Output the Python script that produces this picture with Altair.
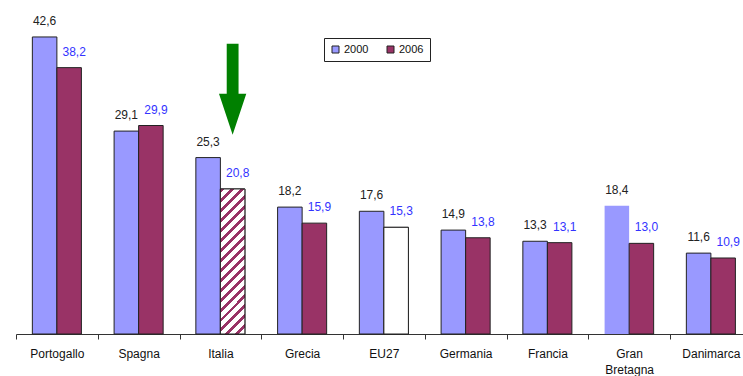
import altair as alt
import pandas as pd

# Countries, in display order, and the two survey years
paesi = ["Portogallo", "Spagna", "Italia", "Grecia", "EU27",
         "Germania", "Francia", "Gran Bretagna", "Danimarca"]
anni = ["2000", "2006"]
valori_2000 = [42.6, 29.1, 25.3, 18.2, 17.6, 14.9, 13.3, 18.4, 11.6]
valori_2006 = [38.2, 29.9, 20.8, 15.9, 15.3, 13.8, 13.1, 13.0, 10.9]

# Annotation arrow pointing at the Italian 2006 bar
freccia_paese = ["Italia"]
freccia_anno = ["2006"]
freccia_valore = [35.1]

rows = []
for p, a, b in zip(paesi, valori_2000, valori_2006):
    rows.append({"paese": p, "anno": "2000", "valore": a})
    rows.append({"paese": p, "anno": "2006", "valore": b})
df = pd.DataFrame(rows)
df["etichetta"] = df["valore"].map(lambda v: f"{v:.1f}".replace(".", ","))

freccia = pd.DataFrame({"paese": freccia_paese, "anno": freccia_anno,
                        "valore": freccia_valore})

# Layout
LEFT = 16
STEP = 81.75
RANGE_W = STEP * len(paesi)
PLOT_H = 334
Y_MAX = 47.9
PX_PER_UNIT = PLOT_H / Y_MAX

LAVANDA = "#9999ff"
BORDEAUX = "#993366"

# Diagonal hatch for the highlighted bar, built as a hard-stop linear gradient
bar_w = STEP * 0.3
bar_h = valori_2006[paesi.index("Italia")] * PX_PER_UNIT
a = bar_w / bar_h
k = (a + 1) / (a * a + 1)
n_strisce = 17
stops = []
for i in range(n_strisce):
    s0 = i / n_strisce
    s1 = (i + 0.4) / n_strisce
    s2 = (i + 1) / n_strisce
    stops += [
        alt.GradientStop(offset=s0, color=BORDEAUX),
        alt.GradientStop(offset=s1, color=BORDEAUX),
        alt.GradientStop(offset=s1, color="#ffffff"),
        alt.GradientStop(offset=s2, color="#ffffff"),
    ]
tratteggio = alt.LinearGradient(gradient="linear", stops=stops,
                                x1=0, y1=0, x2=a * k, y2=k)

x_enc = alt.X(
    "paese:N", sort=paesi,
    scale=alt.Scale(range=[0, RANGE_W], paddingInner=0, paddingOuter=0),
    axis=alt.Axis(
        title=None, labelAngle=0, tickBand="extent", tickSize=5,
        tickColor="#333333", domainColor="#333333",
        labelFont="Liberation Sans", labelFontSize=12, labelColor="#111111",
        labelBaseline="top", labelPadding=9, labelLineHeight=16,
        labelExpr="datum.value == 'Gran Bretagna' ? ['Gran', 'Bretagna'] : datum.value",
    ),
)
xoff_enc = alt.XOffset("anno:N", sort=anni,
                       scale=alt.Scale(paddingOuter=0.667, paddingInner=0))
y_enc = alt.Y("valore:Q", scale=alt.Scale(domain=[0, Y_MAX]), axis=None)

base = alt.Chart(df).encode(x=x_enc, xOffset=xoff_enc, y=y_enc)

barre = base.mark_bar(stroke="#222222", strokeWidth=1).encode(
    fill=alt.Color(
        "anno:N",
        scale=alt.Scale(domain=anni, range=[LAVANDA, BORDEAUX]),
        legend=alt.Legend(
            title=None, orient="none", legendX=308, legendY=38,
            direction="horizontal", fillColor="white", strokeColor="#222222",
            padding=6, symbolType="square", symbolSize=49,
            symbolStrokeColor="#222222", symbolStrokeWidth=1,
            labelFont="Liberation Sans", labelFontSize=11,
            labelColor="#111111", labelOffset=3, columnPadding=16,
        ),
    ),
    strokeOpacity=alt.condition(
        "datum.paese == 'Gran Bretagna' && datum.anno == '2000'",
        alt.value(0), alt.value(1)),
)

italia_2006 = base.transform_filter(
    "datum.paese == 'Italia' && datum.anno == '2006'"
).mark_bar(fill=tratteggio, stroke="#222222", strokeWidth=1)

eu27_2006 = base.transform_filter(
    "datum.paese == 'EU27' && datum.anno == '2006'"
).mark_bar(fill="#ffffff", stroke="#222222", strokeWidth=1)

testo_2000 = base.transform_filter("datum.anno == '2000'").mark_text(
    baseline="alphabetic", dy=-12, fontSize=12, font="Liberation Sans",
    color="#222222",
).encode(text="etichetta:N")

testo_2006 = base.transform_filter("datum.anno == '2006'").mark_text(
    baseline="alphabetic", dy=-12, dx=5, fontSize=12, font="Liberation Sans",
    color="#3333ff",
).encode(text="etichetta:N")

freccia_path = ("M -0.13,-1 L 0.13,-1 L 0.13,0.1 L 0.3,0.1 L 0,1 "
                "L -0.3,0.1 L -0.13,0.1 Z")
freccia_layer = alt.Chart(freccia).mark_point(
    shape=freccia_path, size=91 * 91, filled=True, color="#008000",
    opacity=1, strokeWidth=0,
).encode(x=x_enc, xOffset=xoff_enc, y=y_enc)

chart = alt.layer(
    barre, italia_2006, eu27_2006, testo_2000, testo_2006, freccia_layer
).properties(
    width=743 - LEFT, height=PLOT_H,
    autosize=alt.AutoSizeParams(type="none"),
    padding={"left": LEFT, "top": 0, "right": 0, "bottom": 376 - PLOT_H},
    background="white",
).configure_view(stroke=None)

chart.save("out.html", embed_options={"renderer": "svg", "actions": False})
